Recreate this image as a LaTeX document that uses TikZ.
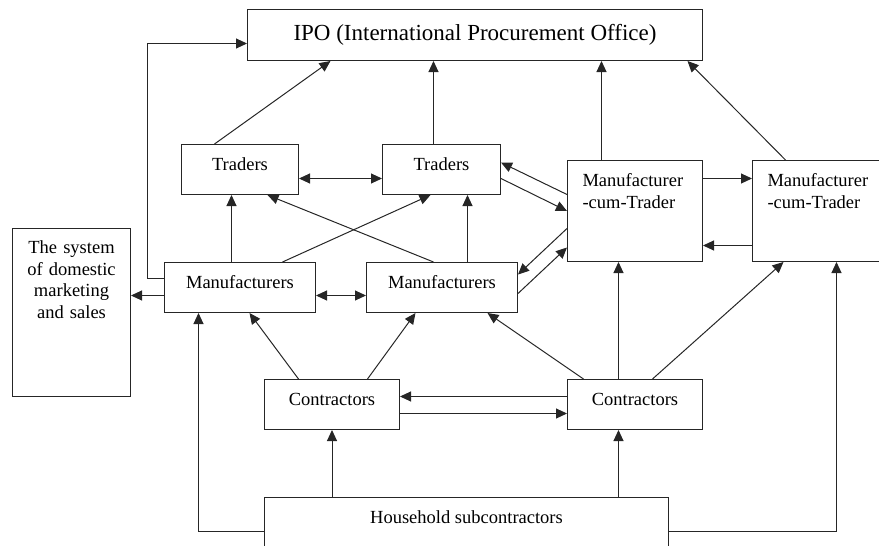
\documentclass[tikz,border=0pt]{standalone}
\usepackage{fontspec}
\setmainfont{Liberation Serif}
\usetikzlibrary{arrows.meta,positioning}
\tikzset{
    ipo-box/.style={
        draw=black!85,
        line width=1pt,
        minimum width=455pt,
        minimum height=51pt,
        font=\fontsize{23}{27}\selectfont
    },
    firm-box/.style={
        draw=black!85,
        line width=1pt,
        inner sep=0pt,
        text height=25.5pt,
        text depth=24.5pt,
        font=\fontsize{18.5}{22}\selectfont
    },
    mct-box/.style={
        firm-box,
        align=left,
        text width=105pt,
        inner xsep=15pt,
        text height=26pt,
        text depth=75pt
    },
    dom-box/.style={
        firm-box,
        align=center,
        text width=110pt,
        inner xsep=4pt,
        text height=25pt,
        text depth=143pt,
        font=\fontsize{18.5}{21.7}\selectfont
    },
    hh-box/.style={
        firm-box,
        minimum width=404pt,
        text height=26pt,
        text depth=42pt
    },
    link/.style={
        draw=black!85,
        line width=1pt,
        ->
    },
    every edge/.style={
        draw=black!85,
        line width=1pt
    },
    >={Triangle[length=11pt,width=10pt]}
}

\begin{document}
\begin{tikzpicture}[x=1pt,y=-1pt]
    \useasboundingbox (0,0) rectangle (879,546);
    \clip (0,0) rectangle (879,546);

    \node[ipo-box, anchor=north west] (ipo) at (247,9) {IPO (International Procurement Office)};
    \node[firm-box, anchor=north west, minimum width=117pt] (trd1) at (181,144) {Traders};
    \node[firm-box, anchor=north west, minimum width=118pt] (trd2) at (382,144) {Traders};
    \node[mct-box, anchor=north west] (mct1) at (567,160) {Manufacturer\\-cum-Trader};
    \node[mct-box, anchor=north west] (mct2) at (752,160) {Manufacturer\\-cum-Trader};
    \node[dom-box, anchor=north west] (dom) at (12,228) {The system\\of domestic\\marketing\\and sales};
    \node[firm-box, anchor=north west, minimum width=151pt] (mfr1) at (164,262) {Manufacturers};
    \node[firm-box, anchor=north west, minimum width=151pt] (mfr2) at (366,262) {Manufacturers};
    \node[firm-box, anchor=north west, minimum width=135pt] (con1) at (264,379) {Contractors};
    \node[firm-box, anchor=north west, minimum width=135pt] (con2) at (567,379) {Contractors};
    \node[hh-box, anchor=north west] (hh) at (264,497) {Household subcontractors};

    % into the IPO
    \draw ([xshift=-25.5pt]trd1.north) edge[->] ([xshift=-144.5pt]ipo.south);
    \draw ([xshift=-8pt]trd2.north) edge[->] ([xshift=-8pt]trd2.north |- ipo.south);
    \draw ([xshift=-33.5pt]mct1.north) edge[->] ([xshift=-33.5pt]mct1.north |- ipo.south);
    \draw ([xshift=-34.5pt]mct2.north) edge[->] ([xshift=212.5pt]ipo.south);
    \draw[link] ([yshift=9pt]mfr1.west) -- ++(-17,0) |- ([yshift=-8.5pt]ipo.west);

    % traders and manufacturer-cum-traders
    \draw ([yshift=-9pt]trd1.east) edge[<->] ([yshift=-9pt]trd1.east -| trd2.west);
    \draw ([yshift=16.5pt]mct1.west) edge[->] ([yshift=7pt]trd2.east);
    \draw ([yshift=-9pt]trd2.east) edge[->] (mct1.west);
    \draw ([yshift=32.5pt]mct1.east) edge[->] ([yshift=32.5pt]mct1.east -| mct2.west);
    \draw ([yshift=-34.5pt]mct2.west) edge[->] ([yshift=-34.5pt]mct2.west -| mct1.east);

    % manufacturers
    \draw ([xshift=-8.5pt]mfr1.north) edge[->] ([xshift=-8.5pt]mfr1.north |- trd1.south);
    \draw ([xshift=42.5pt]mfr1.north) edge[->] ([xshift=-11pt]trd2.south);
    \draw ([xshift=-8.5pt]mfr2.north) edge[->] ([xshift=27.5pt]trd1.south);
    \draw ([xshift=25.5pt]mfr2.north) edge[->] ([xshift=25.5pt]mfr2.north |- trd2.south);
    \draw ([yshift=-17.5pt]mct1.west) edge[->] ([yshift=13pt]mfr2.east);
    \draw ([yshift=-6pt]mfr2.east) edge[->] ([yshift=-36.5pt]mct1.west);
    \draw ([yshift=-8pt]mfr1.west) edge[->] ([yshift=-8pt]mfr1.west -| dom.east);
    \draw ([yshift=-8pt]mfr1.east) edge[<->] ([yshift=-8pt]mfr1.east -| mfr2.west);

    % contractors
    \draw ([xshift=-33.5pt]con1.north) edge[->] ([xshift=9.5pt]mfr1.south);
    \draw ([xshift=35.5pt]con1.north) edge[->] ([xshift=-26.5pt]mfr2.south);
    \draw ([yshift=8pt]con2.west) edge[->] ([yshift=8pt]con2.west -| con1.east);
    \draw ([yshift=-9pt]con1.east) edge[->] ([yshift=-9pt]con1.east -| con2.west);
    \draw ([xshift=-51.5pt]con2.north) edge[->] ([xshift=45.5pt]mfr2.south);
    \draw ([xshift=-16.5pt]con2.north) edge[->] ([xshift=-16.5pt]con2.north |- mct1.south);
    \draw ([xshift=17.5pt]con2.north) edge[->] ([xshift=-36.5pt]mct2.south);

    % household subcontractors
    \draw (con1.south |- hh.north) edge[->] (con1.south);
    \draw ([xshift=-16.5pt]con2.south |- hh.north) edge[->] ([xshift=-16.5pt]con2.south);
    \draw[link] (hh.west) -| ([xshift=-41.5pt]mfr1.south);
    \draw[link] (hh.east) -| ([xshift=16.5pt]mct2.south);
\end{tikzpicture}
\end{document}
